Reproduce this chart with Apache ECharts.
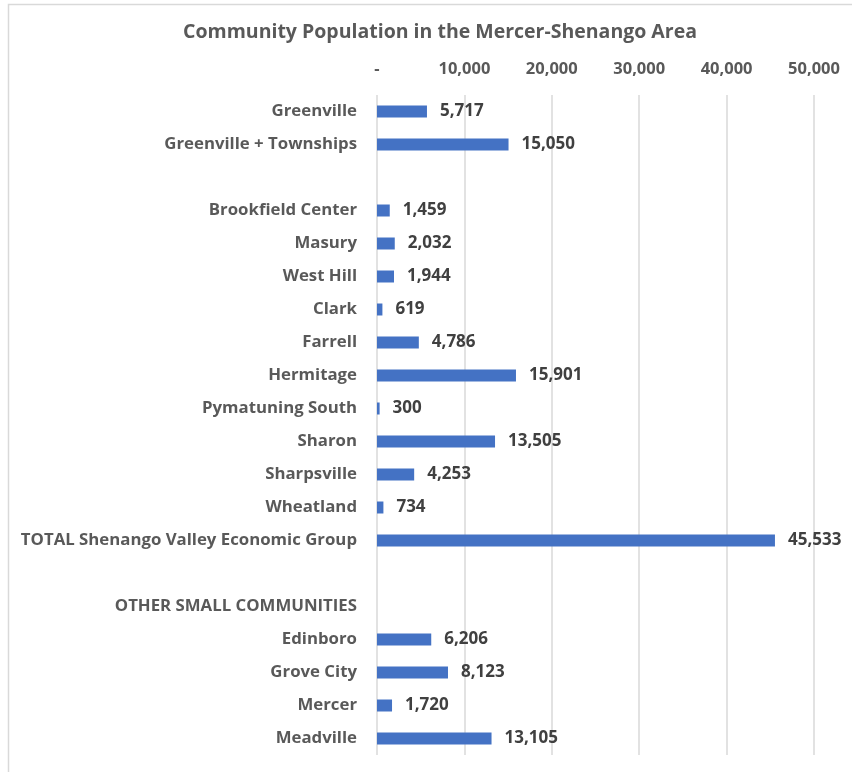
<!DOCTYPE html>
<html>
<head>
<meta charset="utf-8">
<script src="https://cdn.jsdelivr.net/npm/echarts@6/dist/echarts.min.js"></script>
<style>
  html, body { margin: 0; padding: 0; background: #ffffff; }
  #chart { width: 852px; height: 772px; }
</style>
</head>
<body>
<div id="chart"></div>
<script>
// Community names, top to bottom (blank entries are spacer rows)
const communities = [
  'Greenville', 'Greenville + Townships', ' ',
  'Brookfield Center', 'Masury', 'West Hill', 'Clark', 'Farrell', 'Hermitage',
  'Pymatuning South', 'Sharon', 'Sharpsville', 'Wheatland',
  'TOTAL Shenango Valley Economic Group', '  ',
  'OTHER SMALL COMMUNITIES', 'Edinboro', 'Grove City', 'Mercer', 'Meadville'
];

// Population of each community ('-' = no bar)
const population = [
  5717, 15050, '-',
  1459, 2032, 1944, 619, 4786, 15901,
  300, 13505, 4253, 734,
  45533, '-',
  '-', 6206, 8123, 1720, 13105
];

// Population axis scale
const axisMin = 0;
const axisMax = 50000;
const axisStep = 10000;

const fontFamily = '"Open Sans", Lato, "Liberation Sans", sans-serif';
const fmt = v => v === 0 ? '-' : v.toLocaleString('en-US');

const chart = echarts.init(document.getElementById('chart'), null, { renderer: 'canvas' });

chart.setOption({
  backgroundColor: '#ffffff',
  animation: false,
  title: {
    text: 'Community Population in the Mercer-Shenango Area',
    left: 435,
    top: 17,
    textAlign: 'center',
    textStyle: { fontFamily, fontSize: 19.5, fontWeight: 'bold', color: '#595959' }
  },
  graphic: [{
    type: 'rect',
    shape: { x: 8.5, y: 4.5, width: 900, height: 800 },
    style: { fill: 'none', stroke: '#D9D9D9', lineWidth: 1.5 },
    silent: true,
    z: -1
  }],
  grid: { left: 377, right: 38, top: 95, bottom: 17, containLabel: false },
  xAxis: {
    type: 'value',
    position: 'top',
    min: axisMin,
    max: axisMax,
    interval: axisStep,
    axisLine: { show: false },
    axisTick: { show: false },
    splitLine: { show: true, lineStyle: { color: '#D9D9D9', width: 1.5 } },
    axisLabel: {
      formatter: fmt,
      margin: 17,
      fontFamily, fontSize: 16.5, fontWeight: 'bold', color: '#595959'
    }
  },
  yAxis: {
    type: 'category',
    inverse: true,
    data: communities,
    axisLine: { show: false },
    axisTick: { show: false },
    splitLine: { show: false },
    axisLabel: {
      interval: 0,
      margin: 20,
      fontFamily, fontSize: 16.8, fontWeight: 'bold', color: '#595959'
    }
  },
  series: [{
    type: 'bar',
    data: population,
    barWidth: 12,
    itemStyle: { color: '#4472C4' },
    label: {
      show: true,
      position: 'right',
      distance: 13,
      formatter: p => fmt(p.value),
      fontFamily, fontSize: 17, fontWeight: 'bold', color: '#404040'
    }
  }]
});
</script>
</body>
</html>
